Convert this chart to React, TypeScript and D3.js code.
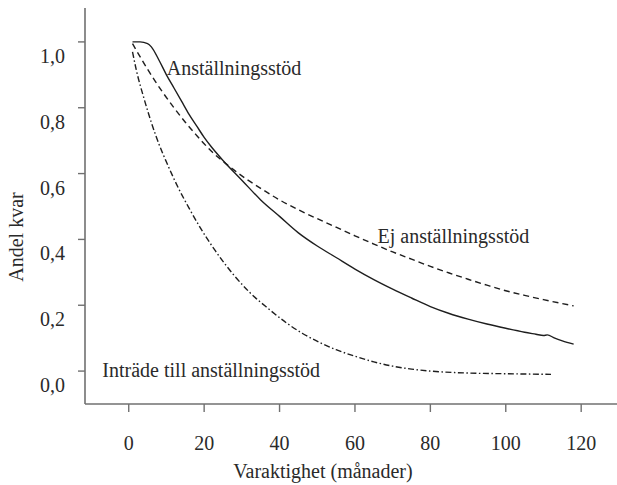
import * as d3 from 'd3';

// Anställningsstöd (solid)
const stodMonths = [1, 3, 5, 6, 8, 10, 12, 14, 16, 18, 20, 22, 25, 30, 35, 40, 45, 50, 55, 60, 65, 70, 75, 80, 85, 90, 95, 100, 105, 108, 110, 111, 113, 115, 118];
const stodValues = [1.0, 1.0, 0.995, 0.985, 0.945, 0.9, 0.86, 0.82, 0.78, 0.745, 0.71, 0.68, 0.64, 0.58, 0.52, 0.47, 0.42, 0.38, 0.345, 0.31, 0.278, 0.249, 0.222, 0.196, 0.175, 0.158, 0.143, 0.13, 0.118, 0.112, 0.108, 0.11, 0.1, 0.092, 0.082];

// Ej anställningsstöd (dashed)
const ejMonths = [1, 3, 5, 7, 9, 12, 15, 18, 22, 26, 31, 35, 40, 45, 50, 55, 60, 65, 70, 75, 80, 85, 90, 95, 100, 105, 110, 115, 118];
const ejValues = [0.995, 0.955, 0.917, 0.881, 0.847, 0.8, 0.756, 0.716, 0.667, 0.628, 0.585, 0.555, 0.52, 0.49, 0.463, 0.437, 0.411, 0.386, 0.362, 0.34, 0.318, 0.298, 0.279, 0.261, 0.244, 0.23, 0.217, 0.205, 0.198];

// Inträde till anställningsstöd (dash-dot)
const intradeMonths = [1, 2, 4, 6, 8, 10, 13, 16, 19, 23, 28, 32, 37, 42, 46, 51, 55, 60, 65, 70, 75, 80, 90, 100, 112];
const intradeValues = [0.97, 0.915, 0.83, 0.755, 0.69, 0.635, 0.56, 0.495, 0.435, 0.365, 0.29, 0.24, 0.19, 0.145, 0.115, 0.085, 0.065, 0.045, 0.028, 0.015, 0.006, 0.0, -0.006, -0.008, -0.01];

const xTicks = [0, 20, 40, 60, 80, 100, 120];
const yTicks = [0, 0.2, 0.4, 0.6, 0.8, 1.0];

const width = 617;
const height = 485;
const axisColor = '#707070';
const lineColor = '#1e1e1e';
const textColor = '#2a2a2a';

const x = d3.scaleLinear().domain([-11.6, 129.5]).range([85, 617]);
const y = d3.scaleLinear().domain([-0.1, 1.103]).range([404, 8]);

const line = d3
  .line<[number, number]>()
  .x(d => x(d[0]))
  .y(d => y(d[1]))
  .curve(d3.curveMonotoneX);

const series = [
  { name: 'stod', months: stodMonths, values: stodValues, dash: undefined },
  { name: 'ej', months: ejMonths, values: ejValues, dash: '6,4' },
  { name: 'intrade', months: intradeMonths, values: intradeValues, dash: '6,2.5,1.5,2.5' },
];

const labels = [
  { text: 'Anställningsstöd', t: 10.1, v: 0.9 },
  { text: 'Ej anställningsstöd', t: 66, v: 0.39 },
  { text: 'Inträde till anställningsstöd', t: -7, v: -0.017 },
];

const fmt = (v: number) => d3.format('.1f')(v).replace('.', ',');

const css = `
  body { margin: 0; }
  svg.chart text { font-family: 'Liberation Serif', 'Times New Roman', serif !important; font-size: 20px; fill: ${textColor}; }
`;

export default function App() {
  const [x0, x1] = x.range();
  const yBase = y(-0.1);
  const yTop = y.range()[1];
  return (
    <>
      <style>{css}</style>
      <svg className="chart" width={width} height={height} style={{ display: 'block' }}>
        {/* x axis */}
        <line x1={x0} x2={x1} y1={yBase} y2={yBase} stroke={axisColor} strokeWidth={1.6} />
        {xTicks.map(t => (
          <g key={t} transform={`translate(${x(t)},${yBase})`}>
            <line y2={8} stroke={axisColor} strokeWidth={1.4} />
            <text y={46} textAnchor="middle">
              {t}
            </text>
          </g>
        ))}
        <text x={323} y={478} textAnchor="middle">
          Varaktighet (månader)
        </text>

        {/* y axis */}
        <line x1={x0} x2={x0} y1={yTop} y2={yBase} stroke={axisColor} strokeWidth={1.6} />
        {yTicks.map(v => (
          <g key={v} transform={`translate(${x0},${y(v)})`}>
            <line x2={-7} stroke={axisColor} strokeWidth={1.4} />
            <text x={-20} y={21} textAnchor="end">
              {fmt(v)}
            </text>
          </g>
        ))}
        <text transform="translate(23,237) rotate(-90)" textAnchor="middle">
          Andel kvar
        </text>

        {/* curves */}
        {series.map(s => (
          <path
            key={s.name}
            d={line(s.months.map((m, i) => [m, s.values[i]] as [number, number])) ?? ''}
            fill="none"
            stroke={lineColor}
            strokeWidth={1.4}
            strokeDasharray={s.dash}
          />
        ))}

        {labels.map(l => (
          <text key={l.text} x={x(l.t)} y={y(l.v)}>
            {l.text}
          </text>
        ))}
      </svg>
    </>
  );
}
